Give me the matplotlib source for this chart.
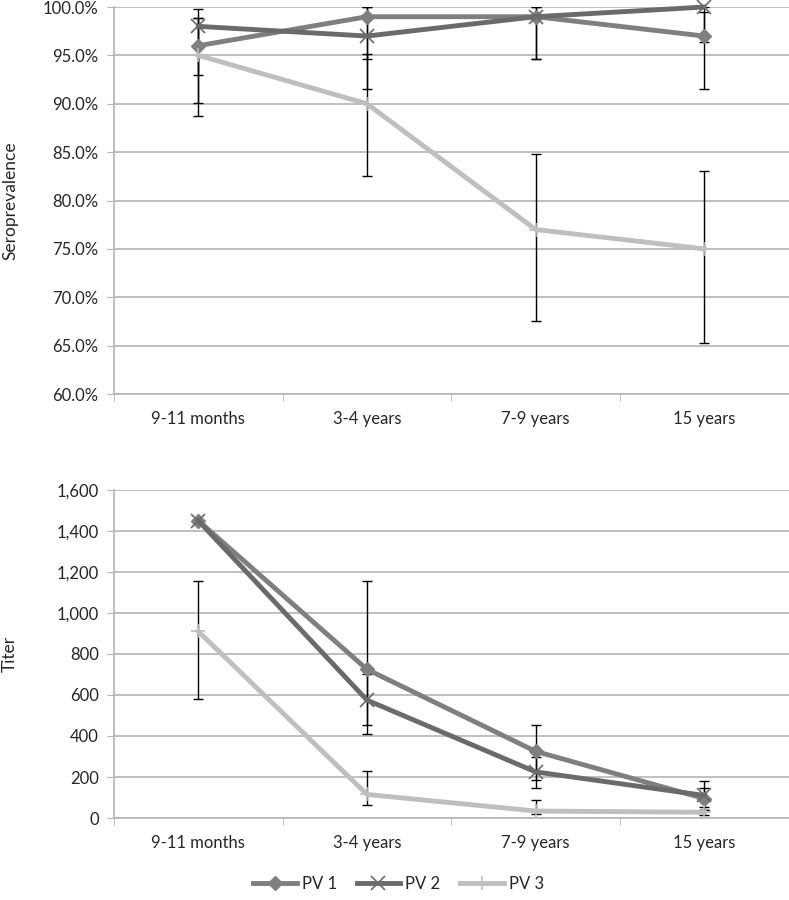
import matplotlib
matplotlib.use("Agg")
from matplotlib import pyplot as plt
from matplotlib.ticker import FuncFormatter, FixedLocator

plt.rcParams['font.family'] = ['Lato', 'DejaVu Sans']

# Données
groups = ["9-11 months", "3-4 years", "7-9 years", "15 years"]
series = ["PV 1", "PV 2", "PV 3"]

sero = {
    "PV 1": [96.0, 99.0, 99.0, 97.0],
    "PV 2": [98.0, 97.0, 99.0, 100.0],
    "PV 3": [95.0, 90.0, 77.0, 75.0],
}
sero_low = {
    "PV 1": [90.1, 94.6, 94.6, 91.5],
    "PV 2": [93.0, 91.5, 94.6, 96.4],
    "PV 3": [88.7, 82.5, 67.5, 65.3],
}
sero_high = {
    "PV 1": [98.9, 100.0, 100.0, 99.5],
    "PV 2": [99.8, 100.0, 100.0, 100.0],
    "PV 3": [98.9, 95.1, 84.8, 83.1],
}

titer = {
    "PV 1": [1450, 725, 325, 95],
    "PV 2": [1450, 575, 225, 110],
    "PV 3": [910, 115, 34, 28],
}
titer_low = {
    "PV 1": [1450, 455, 184, 54],
    "PV 2": [1450, 409, 145, 38],
    "PV 3": [580, 64, 18, 13],
}
titer_high = {
    "PV 1": [1450, 1155, 455, 181],
    "PV 2": [1450, 700, 300, 145],
    "PV 3": [1155, 227, 88, 40],
}

colors = {"PV 1": "#7f7f7f", "PV 2": "#6a6a6a", "PV 3": "#bfbfbf"}
markers = {"PV 1": "D", "PV 2": "x", "PV 3": "+"}
msizes = {"PV 1": 7, "PV 2": 10, "PV 3": 10}

grid_col = "#b4b4b4"
text_col = "#262626"


def style_axes(ax):
    x = list(range(len(groups)))
    ax.set_xlim(-0.5, len(groups) - 0.5)
    ax.set_xticks(x)
    ax.set_xticklabels(groups)
    ax.xaxis.set_minor_locator(FixedLocator([i - 0.5 for i in range(len(groups) + 1)]))
    ax.tick_params(axis='x', which='major', length=0, pad=12, labelsize=12, colors=text_col)
    ax.tick_params(axis='x', which='minor', length=5, color=grid_col, direction='out')
    ax.tick_params(axis='y', length=5, color=grid_col, labelsize=12, labelcolor=text_col, pad=6)
    ax.grid(axis='y', color=grid_col, linewidth=1.2)
    ax.set_axisbelow(True)
    for side in ['top', 'right']:
        ax.spines[side].set_visible(False)
    for side in ['left', 'bottom']:
        ax.spines[side].set_color(grid_col)
        ax.spines[side].set_linewidth(1.2)


def draw(ax, vals, lows, highs):
    x = list(range(len(groups)))
    handles = []
    for s in series:
        yerr = [[v - l for v, l in zip(vals[s], lows[s])],
                [h - v for v, h in zip(vals[s], highs[s])]]
        ax.errorbar(x, vals[s], yerr=yerr, fmt='none', ecolor='black',
                    elinewidth=1, capsize=3.5, capthick=1, zorder=2)
    for s in series:
        mew = 1.2 if s != "PV 1" else 1
        ln, = ax.plot(x, vals[s], color=colors[s], linewidth=3.5,
                      marker=markers[s], markersize=msizes[s], markeredgewidth=mew,
                      markeredgecolor=colors[s], markerfacecolor=colors[s],
                      label=s, zorder=3, clip_on=False)
        handles.append(ln)
    return handles


fig = plt.figure(figsize=(7.89, 9.0), dpi=100)

ax1 = fig.add_axes([0.1445, 0.5622, 0.855, 0.4300])
draw(ax1, sero, sero_low, sero_high)
style_axes(ax1)
ax1.set_ylim(60, 100)
ax1.set_yticks([60, 65, 70, 75, 80, 85, 90, 95, 100])
ax1.yaxis.set_major_formatter(FuncFormatter(lambda v, p: "{:.1f}%".format(v)))
ax1.set_ylabel("Seroprevalence", fontsize=12.5, color=text_col)
ax1.yaxis.set_label_coords(-0.142, 0.5)

ax2 = fig.add_axes([0.1445, 0.0911, 0.855, 0.3645])
handles = draw(ax2, titer, titer_low, titer_high)
style_axes(ax2)
ax2.set_ylim(0, 1600)
ax2.set_yticks(range(0, 1601, 200))
ax2.yaxis.set_major_formatter(FuncFormatter(lambda v, p: "{:,.0f}".format(v)))
ax2.set_ylabel("Titer", fontsize=12.5, color=text_col)
ax2.yaxis.set_label_coords(-0.142, 0.5)

fig.legend(handles=handles, labels=series, loc='center', bbox_to_anchor=(0.505, 0.018),
           ncol=3, frameon=False, fontsize=12, handlelength=2.6, columnspacing=1.2,
           handletextpad=0.3, labelcolor=text_col)

fig.savefig("out.png", dpi=100)
